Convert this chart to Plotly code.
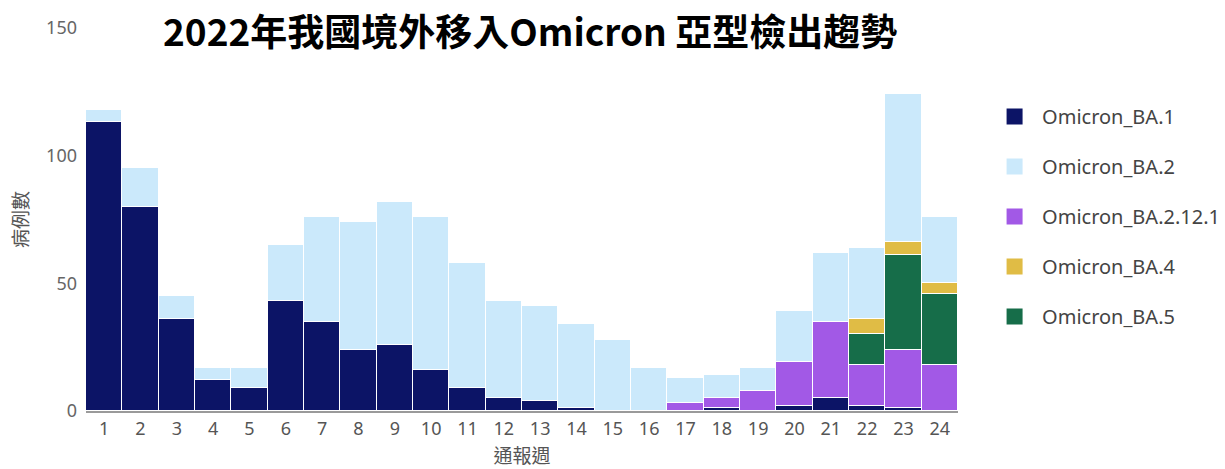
import plotly.graph_objects as go

weeks = [str(w) for w in range(1, 25)]

# values per week
ba1 = [113, 80, 36, 12, 9, 43, 35, 24, 26, 16, 9, 5, 4, 1, 0, 0, 0, 1, 0, 2, 5, 2, 1, 0]
ba2 = [5, 15, 9, 5, 8, 22, 41, 50, 56, 60, 49, 38, 37, 33, 28, 17, 10, 9, 9, 20, 27, 28, 58, 26]
ba2121 = [0, 0, 0, 0, 0, 0, 0, 0, 0, 0, 0, 0, 0, 0, 0, 0, 3, 4, 8, 17, 30, 16, 23, 18]
ba4 = [0] * 21 + [6, 5, 4]
ba5 = [0] * 21 + [12, 37, 28]

COLORS = {
    "Omicron_BA.1": "#0c1466",
    "Omicron_BA.2": "#cbe9fb",
    "Omicron_BA.2.12.1": "#a259e6",
    "Omicron_BA.4": "#e0bc45",
    "Omicron_BA.5": "#166d49",
}

LEGEND_ORDER = ["Omicron_BA.1", "Omicron_BA.2", "Omicron_BA.2.12.1", "Omicron_BA.4", "Omicron_BA.5"]

# stacking order bottom -> top
stack = [
    ("Omicron_BA.1", ba1),
    ("Omicron_BA.2.12.1", ba2121),
    ("Omicron_BA.5", ba5),
    ("Omicron_BA.4", ba4),
    ("Omicron_BA.2", ba2),
]

fig = go.Figure()
for name, vals in stack:
    fig.add_trace(go.Bar(
        x=weeks,
        y=vals,
        name=name,
        showlegend=False,
        marker=dict(color=COLORS[name], line=dict(color="white", width=1.5)),
    ))

# legend entries with bigger square swatches
for i, name in enumerate(LEGEND_ORDER):
    fig.add_trace(go.Scatter(
        x=[None], y=[None],
        mode="markers",
        name=name,
        legendgroup=name,
        legendrank=i + 1,
        marker=dict(symbol="square", size=16, color=COLORS[name]),
    ))

# page body adds an 8px offset, so the figure is a little smaller than the window
fig.update_layout(
    title=dict(
        text="<b>2022年我國境外移入Omicron 亞型檢出趨勢</b>",
        x=0.429, xanchor="center", xref="container",
        y=0.946, yanchor="middle", yref="container",
        font=dict(size=37, color="#000000", family="Noto Sans CJK TC"),
    ),
    barmode="stack",
    bargap=0,
    width=1217,
    height=461,
    margin=dict(l=78, r=267, t=20, b=58),
    paper_bgcolor="white",
    plot_bgcolor="white",
    font=dict(family="Noto Sans, Noto Sans CJK TC", color="#555555", size=18),
    xaxis=dict(
        title=dict(text="通報週", standoff=22, font=dict(size=19, color="#555555")),
        showgrid=False,
        showline=True, linecolor="#9a9a9a", linewidth=2,
        ticks="", tickfont=dict(size=18, color="#555555"),
        automargin=False,
    ),
    yaxis=dict(
        title=dict(text="病例數", standoff=14, font=dict(size=19, color="#555555")),
        range=[0, 150],
        tickvals=[0, 50, 100, 150],
        showgrid=False, zeroline=False,
        tickfont=dict(size=18, color="#666666"),
        ticklabelstandoff=8,
        automargin=False,
    ),
    legend=dict(
        xref="container", yref="container",
        x=0.8045, xanchor="left",
        y=0.807, yanchor="top",
        traceorder="grouped",
        tracegroupgap=21,
        itemwidth=45,
        itemsizing="trace",
        font=dict(size=20, color="#444444"),
    ),
)

fig.write_html("out.html")
